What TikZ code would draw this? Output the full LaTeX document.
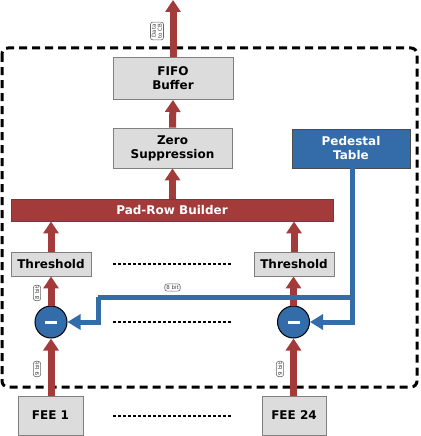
\documentclass[tikz,border=0pt]{standalone}
\usepackage{fontspec}
\setmainfont{DejaVu Sans}
\usetikzlibrary{arrows.meta,calc}
\definecolor{boxgray}{HTML}{DCDCDC}
\definecolor{boxedge}{HTML}{7F7F7F}
\definecolor{dred}{HTML}{A33B3B}
\definecolor{dblue}{HTML}{336CA8}
\tikzset{
  graybox/.style={draw=boxedge, fill=boxgray, line width=0.8pt, inner sep=0pt, font=\fontsize{12}{14}\selectfont\bfseries, align=center},
  bluebox/.style={draw=black!70, fill=dblue, text=white, line width=0.8pt, inner sep=0pt, font=\fontsize{12}{14}\selectfont\bfseries, align=center},
  redbox/.style={draw=black!70, fill=dred, text=white, line width=0.8pt, inner sep=0pt, font=\fontsize{12}{14}\selectfont\bfseries, align=center},
  redarrow/.style={draw=dred, line width=7pt, -{Triangle[width=15pt,length=12pt]}},
  bluearrow/.style={draw=dblue, line width=5pt, -{Triangle[width=15pt,length=13pt]}},
  blueline/.style={draw=dblue, line width=5pt},
  subnode/.style={circle, draw=black, fill=dblue, line width=1pt, minimum size=32pt, inner sep=0pt},
  tag/.style={draw=black!60, fill=white, rounded corners=2.5pt, line width=0.6pt, inner sep=1.5pt, font=\fontsize{5.5}{6}\selectfont, align=center, text=black!75},
  dotline/.style={line width=2.5pt, dash pattern=on 2.5pt off 2.5pt},
}
\begin{document}
\begin{tikzpicture}[x=1pt,y=-1pt]
\useasboundingbox (0,0) rectangle (420,436);
% dashed frame
\draw[line width=3pt, dash pattern=on 8pt off 5pt, rounded corners=6pt] (2,48) rectangle (417,387);
% boxes
\node[graybox, minimum width=120pt, minimum height=42pt] (fifo) at (173,78.5) {FIFO\\Buffer};
\node[graybox, minimum width=119pt, minimum height=40pt] (zero) at (172.5,148) {Zero\\Suppression};
\node[bluebox, minimum width=118pt, minimum height=39pt] (ped) at (351,148.5) {Pedestal\\Table};
\node[redbox, minimum width=322pt, minimum height=22pt] (pad) at (172,210) {Pad-Row Builder};
\node[graybox, minimum width=80pt, minimum height=24pt] (thl) at (51,264) {Threshold};
\node[graybox, minimum width=80pt, minimum height=24pt] (thr) at (294,264) {Threshold};
\node[subnode] (cl) at (51,322) {};
\node[subnode] (cr) at (293.5,322) {};
\fill[white] ($(cl)+(-6,-1.5)$) rectangle ($(cl)+(6,1.5)$);
\fill[white] ($(cr)+(-6,-1.5)$) rectangle ($(cr)+(6,1.5)$);
\node[graybox, minimum width=65pt, minimum height=39pt] (fee1) at (50.5,415.5) {FEE 1};
\node[graybox, minimum width=64pt, minimum height=39pt] (fee24) at (294,415.5) {FEE 24};
\coordinate (out) at (173,0);
% red arrows
\draw[redarrow] (fifo.north) -- (out);
\draw[redarrow] (zero.north) -- (fifo.south);
\draw[redarrow] (pad.north -| zero) -- (zero.south);
\draw[redarrow] (thl.north) -- (thl.north |- pad.south);
\draw[redarrow] (thr.north) -- (thr.north |- pad.south);
\draw[redarrow] (cl.north) -- (thl.south);
\draw[redarrow] (cr.north) -- (cr.north |- thr.south);
\draw[redarrow] (fee1.north -| cl) -- (cl.south);
\draw[redarrow] (fee24.north -| cr) -- (cr.south);
% blue lines
\coordinate (bj) at (352,297);
\coordinate (bl) at (98,297);
\coordinate (bl2) at (98,322);
\coordinate (br) at (352,322);
\draw[blueline] (ped.south -| bj) -- (bj) -- (bl);
\draw[bluearrow] (bl) -- (bl2) -- (cl.east);
\draw[bluearrow] (bj) -- (br) -- (cr.east);
% dotted lines
\coordinate (d1a) at (113,264); \coordinate (d1b) at (232,264);
\coordinate (d2a) at (113,322); \coordinate (d2b) at (232,322);
\coordinate (d3a) at (113,416); \coordinate (d3b) at (232,416);
\draw[dotline] (d1a) -- (d1b);
\draw[dotline] (d2a) -- (d2b);
\draw[dotline] (d3a) -- (d3b);
% tags
\node[tag, rotate=90] (t1) at (157,31) {Data\\to CB};
\node[tag] (t2) at (172.5,287.5) {8 bit};
\node[tag, rotate=90] (t3) at (37,293) {8 bit};
\node[tag, rotate=90] (t4) at (37,369) {9 bit};
\node[tag, rotate=90] (t5) at (280,369) {9 bit};
\end{tikzpicture}
\end{document}
